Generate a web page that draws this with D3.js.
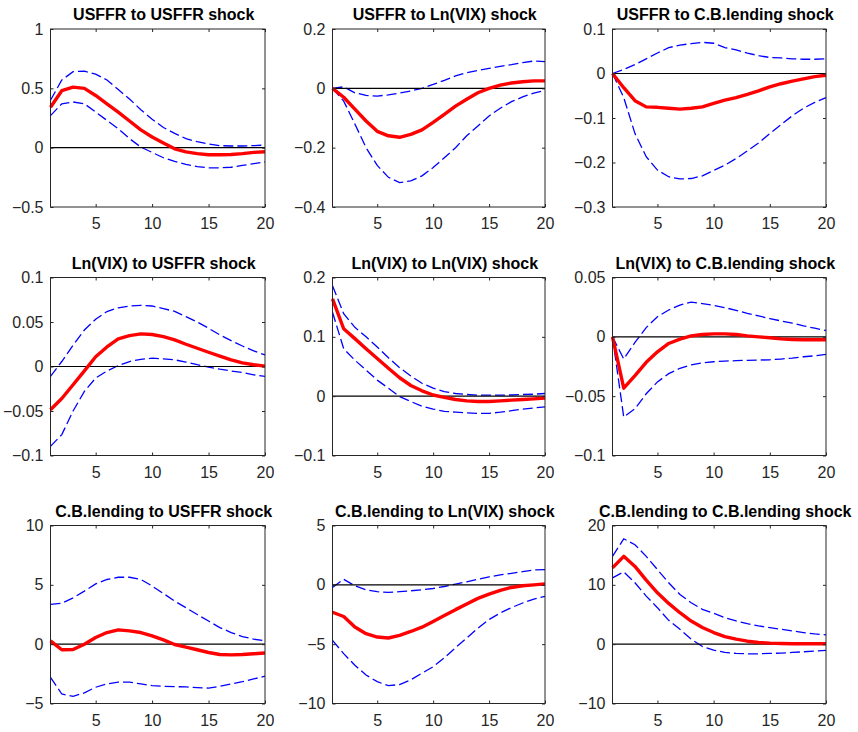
<!DOCTYPE html>
<html>
<head>
<meta charset="utf-8">
<script src="https://cdn.jsdelivr.net/npm/d3@7/dist/d3.min.js"></script>
<style>
	body { margin: 0; background: #fff; }
	svg { display: block; font-family: "Liberation Sans", Arial, sans-serif; }
</style>
</head>
<body>
<div id="chart"></div>
<script>
/* global d3 */

// horizons (quarters after the shock)
var horizons = [1, 2, 3, 4, 5, 6, 7, 8, 9, 10, 11, 12, 13, 14, 15, 16, 17, 18, 19, 20];
var xTicks = [5, 10, 15, 20];

var titles = [
	'USFFR to USFFR shock', 'USFFR to Ln(VIX) shock', 'USFFR to C.B.lending shock',
	'Ln(VIX) to USFFR shock', 'Ln(VIX) to Ln(VIX) shock', 'Ln(VIX) to C.B.lending shock',
	'C.B.lending to USFFR shock', 'C.B.lending to Ln(VIX) shock', 'C.B.lending to C.B.lending shock'
];

var yDomains = [
	[-0.5, 1], [-0.4, 0.2], [-0.3, 0.1],
	[-0.1, 0.1], [-0.1, 0.2], [-0.1, 0.05],
	[-5, 10], [-10, 5], [-10, 20]
];

var yTicks = [
	[-0.5, 0, 0.5, 1], [-0.4, -0.2, 0, 0.2], [-0.3, -0.2, -0.1, 0, 0.1],
	[-0.1, -0.05, 0, 0.05, 0.1], [-0.1, 0, 0.1, 0.2], [-0.1, -0.05, 0, 0.05],
	[-5, 0, 5, 10], [-10, -5, 0, 5], [-10, 0, 10, 20]
];

// USFFR responses
var usffrUsffrMid = [0.34, 0.48, 0.51, 0.50, 0.44, 0.37, 0.30, 0.225, 0.15, 0.09, 0.04, -0.01, -0.035, -0.05, -0.06, -0.06, -0.057, -0.05, -0.04, -0.035];
var usffrUsffrHi  = [0.40, 0.57, 0.64, 0.645, 0.62, 0.57, 0.49, 0.41, 0.32, 0.24, 0.17, 0.12, 0.076, 0.05, 0.03, 0.017, 0.014, 0.014, 0.017, 0.022];
var usffrUsffrLo  = [0.27, 0.37, 0.385, 0.37, 0.30, 0.23, 0.16, 0.076, 0.005, -0.04, -0.085, -0.115, -0.14, -0.16, -0.17, -0.17, -0.165, -0.15, -0.135, -0.12];

var usffrVixMid = [0, -0.03, -0.07, -0.11, -0.145, -0.16, -0.165, -0.155, -0.14, -0.115, -0.088, -0.06, -0.037, -0.015, 0, 0.011, 0.018, 0.022, 0.025, 0.025];
var usffrVixHi  = [0, 0.005, -0.015, -0.024, -0.026, -0.022, -0.016, -0.009, 0, 0.013, 0.027, 0.042, 0.053, 0.06, 0.067, 0.074, 0.08, 0.087, 0.092, 0.09];
var usffrVixLo  = [0, -0.043, -0.12, -0.2, -0.26, -0.30, -0.318, -0.312, -0.295, -0.267, -0.234, -0.2, -0.16, -0.127, -0.093, -0.067, -0.045, -0.029, -0.016, -0.007];

var usffrCblMid = [0, -0.032, -0.061, -0.075, -0.076, -0.078, -0.08, -0.078, -0.075, -0.067, -0.06, -0.054, -0.047, -0.039, -0.03, -0.023, -0.017, -0.012, -0.007, -0.004];
var usffrCblHi  = [0, 0.009, 0.02, 0.033, 0.046, 0.058, 0.064, 0.067, 0.07, 0.068, 0.058, 0.053, 0.046, 0.04, 0.036, 0.035, 0.033, 0.032, 0.032, 0.033];
var usffrCblLo  = [0, -0.054, -0.135, -0.187, -0.217, -0.232, -0.237, -0.236, -0.23, -0.218, -0.206, -0.191, -0.174, -0.156, -0.135, -0.115, -0.095, -0.078, -0.065, -0.054];

// Ln(VIX) responses
var vixUsffrMid = [-0.0485, -0.036, -0.0205, -0.005, 0.011, 0.022, 0.031, 0.0347, 0.0366, 0.036, 0.0336, 0.03, 0.025, 0.0205, 0.016, 0.0116, 0.0075, 0.004, 0.002, 0.0004];
var vixUsffrHi  = [-0.011, 0.0056, 0.024, 0.041, 0.053, 0.0617, 0.066, 0.068, 0.0687, 0.068, 0.065, 0.062, 0.056, 0.05, 0.043, 0.0355, 0.029, 0.023, 0.0175, 0.013];
var vixUsffrLo  = [-0.0897, -0.0765, -0.05, -0.028, -0.013, -0.005, 0.001, 0.0056, 0.008, 0.0093, 0.0086, 0.0075, 0.005, 0.002, -0.0007, -0.003, -0.005, -0.0067, -0.0093, -0.011];

var vixVixMid = [0.164, 0.1136, 0.097, 0.08, 0.0635, 0.047, 0.031, 0.018, 0.009, 0.002, -0.002, -0.0056, -0.008, -0.009, -0.009, -0.008, -0.0067, -0.0056, -0.0045, -0.003];
var vixVixHi  = [0.186, 0.139, 0.116, 0.1, 0.083, 0.0646, 0.048, 0.034, 0.0217, 0.0134, 0.0078, 0.0045, 0.0028, 0.0017, 0.0017, 0.0017, 0.002, 0.0028, 0.0033, 0.0045];
var vixVixLo  = [0.1415, 0.08, 0.0607, 0.044, 0.027, 0.0134, -0.0006, -0.009, -0.017, -0.0217, -0.0256, -0.027, -0.028, -0.029, -0.029, -0.027, -0.0245, -0.022, -0.02, -0.018];

var vixCblMid = [0, -0.0433, -0.0327, -0.0215, -0.0126, -0.0056, -0.002, 0.0008, 0.002, 0.0025, 0.0025, 0.002, 0.0008, 0, -0.0008, -0.0017, -0.0022, -0.0025, -0.0025, -0.0025];
var vixCblHi  = [0, -0.0187, -0.0047, 0.0078, 0.017, 0.0226, 0.0268, 0.0293, 0.028, 0.0265, 0.0246, 0.0223, 0.0198, 0.0176, 0.0154, 0.0134, 0.0115, 0.0092, 0.0073, 0.0053];
var vixCblLo  = [0, -0.0676, -0.0606, -0.048, -0.038, -0.031, -0.0265, -0.0237, -0.022, -0.021, -0.0204, -0.0201, -0.0198, -0.0196, -0.0193, -0.0187, -0.0179, -0.0168, -0.016, -0.0148];

// C.B.lending responses
var cblUsffrMid = [0.28, -0.47, -0.45, 0, 0.56, 0.98, 1.2, 1.12, 0.98, 0.7, 0.36, -0.03, -0.25, -0.47, -0.7, -0.87, -0.9, -0.87, -0.81, -0.75];
var cblUsffrHi  = [3.35, 3.44, 3.9, 4.47, 5.08, 5.45, 5.64, 5.64, 5.45, 4.9, 4.27, 3.63, 3.07, 2.5, 1.95, 1.4, 0.98, 0.64, 0.42, 0.28];
var cblUsffrLo  = [-2.8, -4.2, -4.4, -4.1, -3.63, -3.35, -3.2, -3.2, -3.35, -3.5, -3.55, -3.58, -3.6, -3.66, -3.7, -3.55, -3.35, -3.16, -2.93, -2.7];

var cblVixMid = [-2.31, -2.67, -3.56, -4.12, -4.4, -4.48, -4.26, -3.93, -3.57, -3.09, -2.59, -2.09, -1.62, -1.14, -0.78, -0.47, -0.22, -0.08, 0, 0.08];
var cblVixHi  = [-0.22, 0.47, -0.08, -0.42, -0.58, -0.64, -0.58, -0.5, -0.42, -0.31, -0.14, 0.06, 0.25, 0.47, 0.67, 0.84, 0.97, 1.11, 1.25, 1.28];
var cblVixLo  = [-4.68, -5.8, -6.78, -7.6, -8.16, -8.5, -8.4, -8.0, -7.45, -6.9, -6.15, -5.3, -4.48, -3.65, -2.92, -2.37, -1.92, -1.53, -1.2, -0.97];

var cblCblMid = [12.85, 14.8, 13.1, 10.8, 8.66, 6.87, 5.3, 3.9, 2.8, 1.96, 1.28, 0.84, 0.5, 0.28, 0.17, 0.11, 0.06, 0.06, 0.06, 0.06];
var cblCblHi  = [14.8, 17.76, 16.76, 14.8, 12.57, 10.34, 8.38, 6.98, 5.87, 5.2, 4.47, 3.91, 3.46, 3.07, 2.79, 2.51, 2.23, 1.96, 1.73, 1.56];
var cblCblLo  = [11.17, 12.18, 10.34, 8.1, 6.15, 4.02, 2.51, 0.84, -0.39, -1.0, -1.4, -1.56, -1.62, -1.62, -1.56, -1.5, -1.4, -1.28, -1.17, -1.06];

var buildIrfGrid = function (el) {
	'use strict';

	var panels = [
		[usffrUsffrMid, usffrUsffrHi, usffrUsffrLo],
		[usffrVixMid, usffrVixHi, usffrVixLo],
		[usffrCblMid, usffrCblHi, usffrCblLo],
		[vixUsffrMid, vixUsffrHi, vixUsffrLo],
		[vixVixMid, vixVixHi, vixVixLo],
		[vixCblMid, vixCblHi, vixCblLo],
		[cblUsffrMid, cblUsffrHi, cblUsffrLo],
		[cblVixMid, cblVixHi, cblVixLo],
		[cblCblMid, cblCblHi, cblCblLo]
	];

	var colLeft  = [50.5, 332.5, 612.5],
		colRight = [265, 545, 826],
		rowTop   = [29, 277.5, 525.5],
		plotH    = 178,
		axisColor = '#262626',
		tick = 3;

	var svg = d3.select(el).append('svg')
		.attr('width', 858)
		.attr('height', 732);

	panels.forEach(function (series, i) {
		var row = Math.floor(i / 3),
			col = i % 3,
			top = rowTop[row],
			bottom = top + plotH;

		var x = d3.scaleLinear().domain([1, 20]).range([colLeft[col], colRight[col]]);
		var y = d3.scaleLinear().domain(yDomains[i]).range([bottom, top]);

		var g = svg.append('g').attr('class', 'panel');

		var line = d3.line()
			.x(function (d, j) { return x(horizons[j]); })
			.y(function (d) { return y(d); });

		// confidence bands
		g.selectAll('.band')
			.data([series[1], series[2]])
			.enter().append('path')
				.attr('class', 'band')
				.attr('d', line)
				.attr('fill', 'none')
				.attr('stroke', '#0000ff')
				.attr('stroke-width', 1.3)
				.attr('stroke-dasharray', '10,4');

		// zero line
		g.append('line')
			.attr('x1', x(1)).attr('x2', x(20))
			.attr('y1', y(0)).attr('y2', y(0))
			.attr('stroke', '#000')
			.attr('stroke-width', 1.2);

		// point estimate
		g.append('path')
			.attr('d', line(series[0]))
			.attr('fill', 'none')
			.attr('stroke', '#ff0000')
			.attr('stroke-width', 3.4)
			.attr('stroke-linejoin', 'round');

		var fmt = d3.format('~g');

		var axes = [
			g.append('g').attr('transform', 'translate(0,' + bottom + ')')
				.call(d3.axisBottom(x).tickValues(xTicks).tickSize(-tick).tickSizeOuter(0).tickPadding(11)),
			g.append('g').attr('transform', 'translate(0,' + top + ')')
				.call(d3.axisTop(x).tickValues(xTicks).tickSize(-tick).tickSizeOuter(0).tickFormat('')),
			g.append('g').attr('transform', 'translate(' + colLeft[col] + ',0)')
				.call(d3.axisLeft(y).tickValues(yTicks[i]).tickSize(-tick).tickSizeOuter(0).tickPadding(7).tickFormat(fmt)),
			g.append('g').attr('transform', 'translate(' + colRight[col] + ',0)')
				.call(d3.axisRight(y).tickValues(yTicks[i]).tickSize(-tick).tickSizeOuter(0).tickFormat(''))
		];

		axes.forEach(function (a) {
			a.select('.domain').remove();
			a.selectAll('line').attr('stroke', axisColor);
			a.selectAll('text')
				.attr('fill', axisColor)
				.style('font-size', '16px');
		});

		// axes box
		g.append('rect')
			.attr('x', colLeft[col]).attr('y', top)
			.attr('width', colRight[col] - colLeft[col]).attr('height', plotH)
			.attr('fill', 'none')
			.attr('stroke', axisColor)
			.attr('stroke-width', 1);

		g.append('text')
			.attr('x', (colLeft[col] + colRight[col]) / 2 + 6)
			.attr('y', top - 9)
			.attr('text-anchor', 'middle')
			.attr('font-weight', 'bold')
			.style('font-size', '16px')
			.attr('fill', '#000')
			.text(titles[i]);
	});
};

buildIrfGrid('#chart');
</script>
</body>
</html>
